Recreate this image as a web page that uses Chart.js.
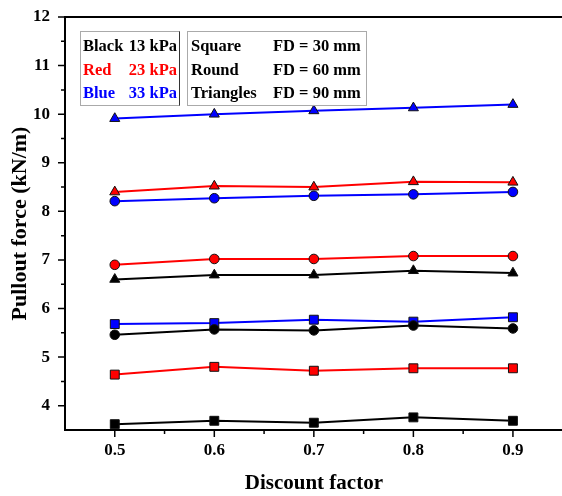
<!DOCTYPE html>
<html>
<head>
<meta charset="utf-8">
<script src="https://cdn.jsdelivr.net/npm/chart.js@4"></script>
<style>
  html, body { margin: 0; padding: 0; background: #fff; overflow: hidden; width: 562px; height: 496px; }
  #wrap { position: relative; width: 570px; height: 496px; }
  .box { position: absolute; top: 31px; height: 71px; border: 1px solid #aaa; padding-top: 2px;
         font: bold 16.5px "Liberation Serif", serif; line-height: 23.5px; box-sizing: content-box; }
  .row { display: flex; white-space: nowrap; }
  #box1 { left: 80px; width: 98px; border-right: 1.5px solid #333; }
  #box1 .row { justify-content: space-between; padding: 0 2px 0 2px; }
  #box2 { left: 187px; width: 178px; }
  #box2 .row span:first-child { display: inline-block; width: 82px; padding-left: 3px; }
</style>
</head>
<body>
<div id="wrap">
  <canvas id="myChart" width="570" height="496"></canvas>
  <div class="box" id="box1">
    <div class="row" style="color:#000"><span>Black</span><span>13 kPa</span></div>
    <div class="row" style="color:#f00"><span>Red</span><span>23 kPa</span></div>
    <div class="row" style="color:#00f"><span>Blue</span><span>33 kPa</span></div>
  </div>
  <div class="box" id="box2">
    <div class="row"><span>Square</span><span>FD = 30 mm</span></div>
    <div class="row"><span>Round</span><span>FD = 60 mm</span></div>
    <div class="row"><span>Triangles</span><span>FD = 90 mm</span></div>
  </div>
</div>
<script>
// discount factor on x
const discount = [0.5, 0.6, 0.7, 0.8, 0.9];

// 13 kPa (black)
const blackSquare   = [3.62, 3.69, 3.65, 3.76, 3.69];
const blackRound    = [5.46, 5.57, 5.55, 5.65, 5.59];
const blackTriangle = [6.60, 6.69, 6.69, 6.78, 6.73];
// 23 kPa (red)
const redSquare   = [4.64, 4.80, 4.72, 4.77, 4.77];
const redRound    = [6.90, 7.02, 7.02, 7.08, 7.08];
const redTriangle = [8.40, 8.52, 8.50, 8.61, 8.60];
// 33 kPa (blue)
const blueSquare   = [5.68, 5.70, 5.77, 5.73, 5.82];
const blueRound    = [8.21, 8.27, 8.32, 8.35, 8.40];
const blueTriangle = [9.91, 10.00, 10.07, 10.13, 10.20];

const xTicks = [0.5, 0.6, 0.7, 0.8, 0.9];
const xMinor = [0.55, 0.65, 0.75, 0.85];
const yTicks = [4, 5, 6, 7, 8, 9, 10, 11, 12];
const yMinor = [4.5, 5.5, 6.5, 7.5, 8.5, 9.5, 10.5, 11.5];

const font = "'Liberation Serif', 'Times New Roman', serif";

function makeSet(values, color, shape) {
    const radius = { rect: 6.3, circle: 4.8, triangle: 5.8 }[shape];
    return {
        data: discount.map((x, i) => ({ x: x, y: values[i] })),
        borderColor: color,
        backgroundColor: color,
        borderWidth: 2,
        pointStyle: shape,
        pointRadius: radius,
        pointBorderColor: '#111',
        pointBorderWidth: 1,
        pointBackgroundColor: color,
        tension: 0
    };
}

const datasets = [
    makeSet(blackSquare, '#000', 'rect'),
    makeSet(blackRound, '#000', 'circle'),
    makeSet(blackTriangle, '#000', 'triangle'),
    makeSet(redSquare, '#f00', 'rect'),
    makeSet(redRound, '#f00', 'circle'),
    makeSet(redTriangle, '#f00', 'triangle'),
    makeSet(blueSquare, '#00f', 'rect'),
    makeSet(blueRound, '#00f', 'circle'),
    makeSet(blueTriangle, '#00f', 'triangle')
];

// tick marks (major and minor) plus top frame line
const frame = {
    id: 'frame',
    afterDraw(chart) {
        const ctx = chart.ctx;
        const a = chart.chartArea;
        const xs = chart.scales.x, ys = chart.scales.y;
        ctx.save();
        ctx.strokeStyle = '#000';
        ctx.lineWidth = 2;
        ctx.beginPath();
        ctx.moveTo(a.left - 1, a.top);
        ctx.lineTo(chart.width, a.top);
        ctx.stroke();
        ctx.lineWidth = 1.5;
        ctx.beginPath();
        xTicks.forEach(v => { const p = xs.getPixelForValue(v); ctx.moveTo(p, a.bottom); ctx.lineTo(p, a.bottom + 7); });
        xMinor.forEach(v => { const p = xs.getPixelForValue(v); ctx.moveTo(p, a.bottom); ctx.lineTo(p, a.bottom + 4); });
        yTicks.forEach(v => { const p = ys.getPixelForValue(v); ctx.moveTo(a.left, p); ctx.lineTo(a.left - 7, p); });
        yMinor.forEach(v => { const p = ys.getPixelForValue(v); ctx.moveTo(a.left, p); ctx.lineTo(a.left - 4, p); });
        ctx.stroke();
        ctx.restore();
    }
};

new Chart("myChart", {
    type: "line",
    data: { datasets: datasets },
    plugins: [frame],
    options: {
        responsive: false,
        animation: false,
        layout: { padding: { top: 17, right: 7, left: 0, bottom: 0 } },
        plugins: { legend: { display: false }, tooltip: { enabled: false } },
        scales: {
            x: {
                type: 'linear',
                min: 0.45,
                max: 0.95,
                afterBuildTicks: s => { s.ticks = xTicks.map(v => ({ value: v })); },
                afterFit: s => { s.height = 66; },
                grid: { display: false, drawTicks: false },
                border: { display: true, color: '#000', width: 2 },
                ticks: { color: '#000', padding: 10, font: { family: font, size: 17, weight: 'bold' },
                         callback: v => v.toFixed(1) },
                title: { display: true, text: 'Discount factor', color: '#000',
                         font: { family: font, size: 21, weight: 'bold' }, padding: { top: 0, bottom: 0 } }
            },
            y: {
                min: 3.5,
                max: 12,
                afterBuildTicks: s => { s.ticks = yTicks.map(v => ({ value: v })); },
                afterFit: s => { s.width = 65; s.paddingTop = 8; s.paddingBottom = 0; },
                grid: { display: false, drawTicks: false },
                border: { display: true, color: '#000', width: 2 },
                ticks: { color: '#000', padding: 15, font: { family: font, size: 17, weight: 'bold' } },
                title: { display: true, text: 'Pullout force (kN/m)', color: '#000',
                         font: { family: font, size: 22, weight: 'bold' }, padding: { top: 7, bottom: 0 } }
            }
        }
    }
});
</script>
</body>
</html>
